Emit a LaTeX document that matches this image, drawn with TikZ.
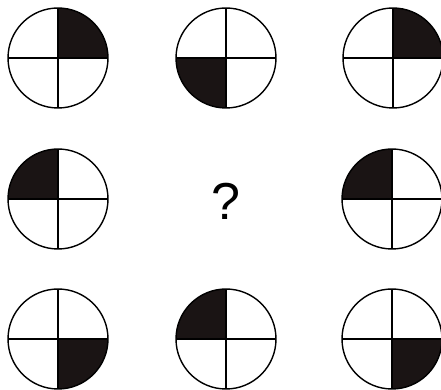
\documentclass[tikz,border=0pt]{standalone}
\usepackage{fontspec}
\setmainfont{Liberation Sans}
\definecolor{qfill}{RGB}{26,20,20}
\begin{document}
\begin{tikzpicture}[x=1pt,y=1pt,
  disc/.style={circle,draw=black,line width=1.4pt,minimum size=100pt,inner sep=0pt,outer sep=0pt},
  quad/.style={fill=qfill},
  cross/.style={draw=black,line width=1.2pt}]
\useasboundingbox (0,0) rectangle (441,390);
\foreach \x/\y/\a/\n in {58/332/0/a, 226/332/180/b, 393/332/0/c,
                         58/191/90/d, 392/191/90/f,
                         58/51/270/g, 226/51/90/h, 392/51/270/i}{
  \fill[quad] (\x,\y) -- ++(\a:50) arc (\a:\a+90:50) -- cycle;
  \node[disc] (\n) at (\x,\y) {};
  \draw[cross] (\n.north) -- (\n.south);
  \draw[cross] (\n.west) -- (\n.east);
}
\node[font=\fontsize{52}{60}\selectfont,inner sep=0pt] (q) at (226,189) {?};
\end{tikzpicture}
\end{document}
